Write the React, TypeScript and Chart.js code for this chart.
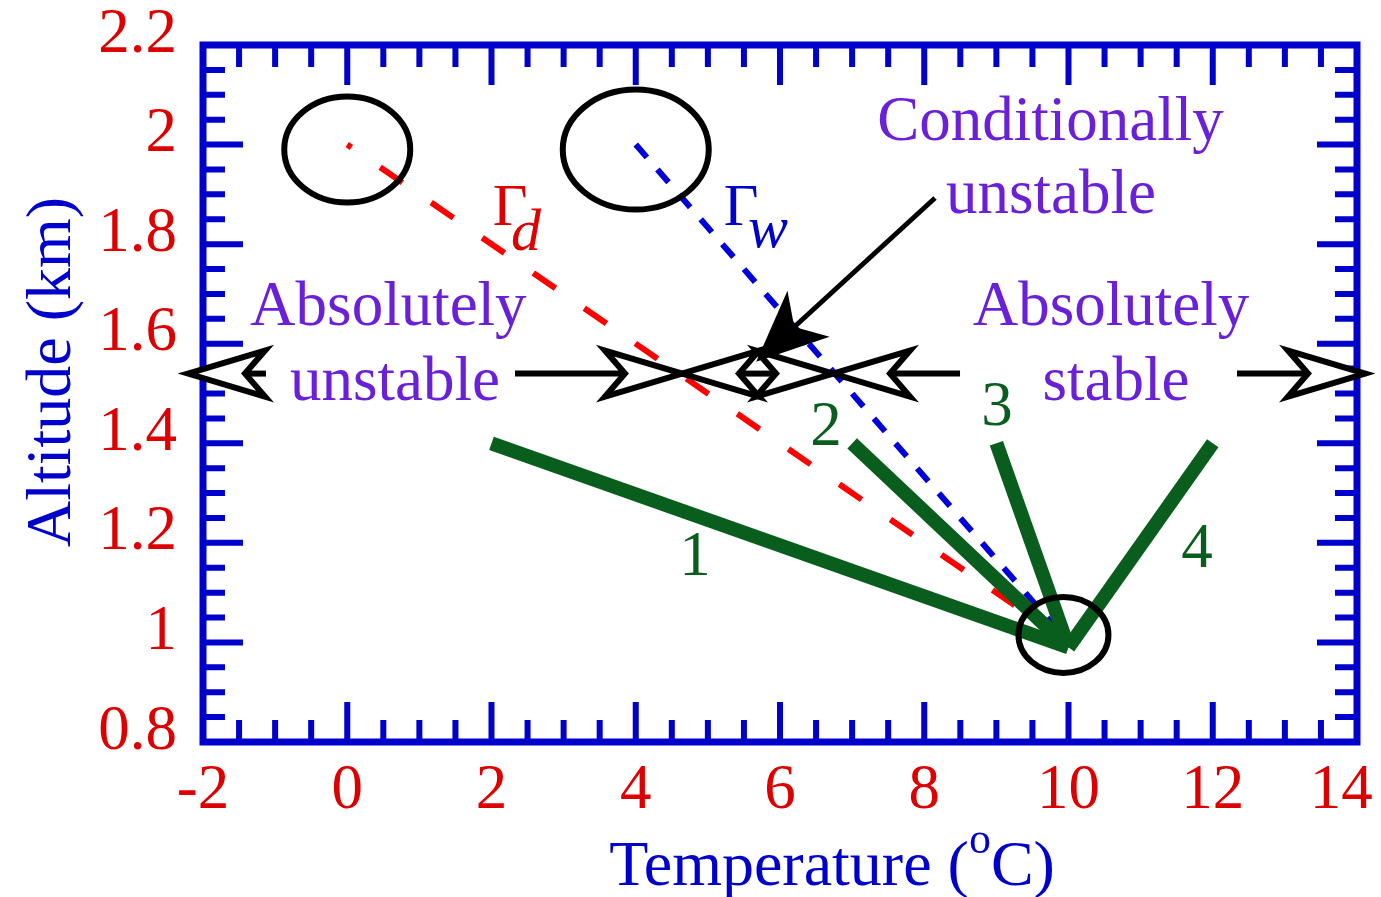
import React, { useEffect, useRef } from 'react';
import { Chart, registerables } from 'chart.js';

Chart.register(...registerables);

// ---------- data ----------
const xTickValues = [-2, 0, 2, 4, 6, 8, 10, 12, 14];
const xTickLabels = ['-2', '0', '2', '4', '6', '8', '10', '12', '14\u2002'];
const yTickValues = [0.8, 1, 1.2, 1.4, 1.6, 1.8, 2, 2.2];
const yTickLabels = ['0.8', '1', '1.2', '1.4', '1.6', '1.8', '2', '2.2'];

const dryX = [0, 10];
const dryY = [2, 1];
const wetX = [4, 10];
const wetY = [2, 1];
const env1X = [2, 10];
const env1Y = [1.4, 0.99];
const env2X = [7, 10];
const env2Y = [1.4, 0.99];
const env3X = [9, 10];
const env3Y = [1.4, 0.99];
const env4X = [12, 10];
const env4Y = [1.4, 0.99];

// ellipses marking points: data-space centres
const circleCX = [0, 4, 9.93];
const circleCY = [1.99, 1.99, 1.015];

// stability ranges arrows (y level and x from/to tip)
const rangeArrowY = 1.54;
const rangeArrowFrom = [-1.127, 2.326, 5.681, 5.681, 8.496, 12.336];
const rangeArrowTo = [-2.208, 4.641, 4.641, 6.735, 6.735, 14.111];

// pointer arrow for "Conditionally unstable"
const pointerFrom = [8.149, 1.8927];
const pointerTo = [5.695, 1.567];

// text labels
const labelTexts = ['Absolutely', 'unstable', 'Conditionally', 'unstable', 'Absolutely', 'stable', '1', '2', '3', '4'];
const labelX = [0.57, 0.662, 9.75, 9.757, 10.589, 10.659, 4.821, 6.638, 9.009, 11.782];
const labelY = [1.6376, 1.487, 2.009, 1.8625, 1.6376, 1.487, 1.1354, 1.3966, 1.4367, 1.1515];

const toPts = (xs: number[], ys: number[]) => xs.map((x, i) => ({ x, y: ys[i] }));

// ---------- styles ----------
const FONT = '"Liberation Serif", "Times New Roman", serif';
const RED = '#dd0000';
const BLUE = '#0000cc';
const PURPLE = '#6a1fd8';
const GREEN = '#0a5e1d';
const circleRX = [63, 73, 45];
const circleRY = [53, 60, 38];
const labelColors = [PURPLE, PURPLE, PURPLE, PURPLE, PURPLE, PURPLE, GREEN, GREEN, GREEN, GREEN];

function drawHead(
  ctx: CanvasRenderingContext2D,
  tx: number, ty: number, ux: number, uy: number,
  len: number, hw: number, notch: number, fill: string
) {
  const nx = -uy, ny = ux;
  const bx = tx - ux * len, by = ty - uy * len;
  const ncx = tx - ux * (len - notch), ncy = ty - uy * (len - notch);
  ctx.beginPath();
  ctx.moveTo(tx, ty);
  ctx.lineTo(bx + nx * hw, by + ny * hw);
  ctx.lineTo(ncx, ncy);
  ctx.lineTo(bx - nx * hw, by - ny * hw);
  ctx.closePath();
  ctx.fillStyle = fill;
  ctx.fill();
  ctx.stroke();
  return [ncx, ncy];
}

const decorPlugin = {
  id: 'decor',
  afterDatasetsDraw(chart: any) {
    const { ctx, chartArea } = chart;
    const xs = chart.scales.x, ys = chart.scales.y;
    const { left, right, top, bottom } = chartArea;
    ctx.save();
    // frame & ticks
    ctx.strokeStyle = BLUE;
    ctx.lineCap = 'butt';
    ctx.lineWidth = 6;
    const minorX = 0.5, minorY = 0.05;
    for (let k = 0; k <= 32; k++) {
      const v = -2 + k * minorX;
      const major = k % 4 === 0;
      const L = major ? 40 : 22;
      const p = xs.getPixelForValue(v);
      ctx.beginPath();
      ctx.moveTo(p, top); ctx.lineTo(p, top + L);
      ctx.moveTo(p, bottom); ctx.lineTo(p, bottom - L);
      ctx.stroke();
    }
    for (let k = 0; k <= 28; k++) {
      const v = 0.8 + k * minorY;
      const major = k % 4 === 0;
      const L = major ? 40 : 22;
      const p = ys.getPixelForValue(v);
      ctx.beginPath();
      ctx.moveTo(left, p); ctx.lineTo(left + L, p);
      ctx.moveTo(right, p); ctx.lineTo(right - L, p);
      ctx.stroke();
    }
    ctx.lineWidth = 7;
    ctx.strokeRect(left, top, right - left, bottom - top);

    // ellipses
    ctx.strokeStyle = '#000';
    ctx.lineWidth = 6;
    for (let i = 0; i < circleCX.length; i++) {
      ctx.beginPath();
      ctx.ellipse(xs.getPixelForValue(circleCX[i]), ys.getPixelForValue(circleCY[i]), circleRX[i], circleRY[i], 0, 0, Math.PI * 2);
      ctx.stroke();
    }

    // range arrows
    ctx.lineJoin = 'miter';
    ctx.miterLimit = 10;
    ctx.lineWidth = 6;
    const ay = ys.getPixelForValue(rangeArrowY);
    for (let i = 0; i < rangeArrowFrom.length; i++) {
      const x0 = xs.getPixelForValue(rangeArrowFrom[i]);
      const x1 = xs.getPixelForValue(rangeArrowTo[i]);
      const ux = x1 > x0 ? 1 : -1;
      const len = 77, notch = 20;
      const ncx = x1 - ux * (len - notch);
      ctx.beginPath();
      ctx.moveTo(x0, ay); ctx.lineTo(ncx, ay);
      ctx.stroke();
      drawHead(ctx, x1, ay, ux, 0, len, 23, notch, '#fff');
    }

    // pointer arrow
    {
      const px0 = xs.getPixelForValue(pointerFrom[0]), py0 = ys.getPixelForValue(pointerFrom[1]);
      const px1 = xs.getPixelForValue(pointerTo[0]), py1 = ys.getPixelForValue(pointerTo[1]);
      const d = Math.hypot(px1 - px0, py1 - py0);
      const ux = (px1 - px0) / d, uy = (py1 - py0) / d;
      const len = 66, notch = 18;
      ctx.lineWidth = 5;
      ctx.beginPath();
      ctx.moveTo(px0, py0);
      ctx.lineTo(px1 - ux * (len - notch), py1 - uy * (len - notch));
      ctx.stroke();
      ctx.lineWidth = 2;
      drawHead(ctx, px1, py1, ux, uy, len, 29, notch, '#000');
    }

    // text labels
    ctx.textAlign = 'center';
    ctx.textBaseline = 'alphabetic';
    ctx.font = `63px ${FONT}`;
    for (let i = 0; i < labelTexts.length; i++) {
      ctx.fillStyle = labelColors[i];
      ctx.fillText(labelTexts[i], xs.getPixelForValue(labelX[i]), ys.getPixelForValue(labelY[i]));
    }
    // Gamma labels
    ctx.font = `60px ${FONT}`;
    ctx.fillStyle = RED;
    ctx.fillText('\u0393', xs.getPixelForValue(2.257), ys.getPixelForValue(1.8384));
    ctx.fillStyle = BLUE;
    ctx.fillText('\u0393', xs.getPixelForValue(5.459), ys.getPixelForValue(1.8384));
    ctx.font = `italic 60px ${FONT}`;
    ctx.fillStyle = RED;
    ctx.fillText('d', xs.getPixelForValue(2.478), ys.getPixelForValue(1.788));
    ctx.fillStyle = BLUE;
    ctx.fillText('w', xs.getPixelForValue(5.834), ys.getPixelForValue(1.794));
    ctx.restore();
  },
  afterDraw(chart: any) {
    const { ctx } = chart;
    ctx.save();
    ctx.fillStyle = BLUE;
    // x title with superscript
    ctx.textBaseline = 'alphabetic';
    ctx.textAlign = 'left';
    ctx.font = `64px ${FONT}`;
    const a = 'Temperature (';
    const c = 'C)';
    const wa = ctx.measureText(a).width;
    const wc = ctx.measureText(c).width;
    ctx.font = `44px ${FONT}`;
    const wo = ctx.measureText('o').width;
    const total = wa + wo + wc;
    let x = 832 - total / 2;
    const base = 885;
    ctx.font = `64px ${FONT}`;
    ctx.fillText(a, x, base);
    x += wa;
    ctx.font = `44px ${FONT}`;
    ctx.fillText('o', x, base - 32);
    x += wo;
    ctx.font = `64px ${FONT}`;
    ctx.fillText(c, x, base);
    // y title
    ctx.translate(70, 372);
    ctx.rotate(-Math.PI / 2);
    ctx.textAlign = 'center';
    ctx.fillText('Altitude (km)', 0, 0);
    ctx.restore();
  },
};

export default function App() {
  const ref = useRef<HTMLCanvasElement>(null);
  useEffect(() => {
    if (!ref.current) return;
    const lineDs = (data: any, color: string, width: number, dash: number[] = [], dashOffset = 0) => ({
      data,
      showLine: true,
      borderColor: color,
      backgroundColor: color,
      borderWidth: width,
      borderDash: dash,
      borderDashOffset: dashOffset,
      borderCapStyle: 'butt',
      pointRadius: 0,
      fill: false,
      tension: 0,
    });
    const chart = new Chart(ref.current, {
      type: 'scatter',
      data: {
        datasets: [
          lineDs(toPts(env1X, env1Y), GREEN, 14),
          lineDs(toPts(env2X, env2Y), GREEN, 14),
          lineDs(toPts(env3X, env3Y), GREEN, 14),
          lineDs(toPts(env4X, env4Y), GREEN, 14),
          lineDs(toPts(wetX, wetY), '#0000dd', 6, [17, 16], 0),
          lineDs(toPts(dryX, dryY), '#ff0000', 6, [27, 35], 22),
        ] as any,
      },
      options: {
        animation: false,
        responsive: false,
        devicePixelRatio: 1,
        layout: { padding: { left: 0, right: 24, top: 45, bottom: 0 } },
        plugins: { legend: { display: false }, tooltip: { enabled: false } },
        scales: {
          x: {
            type: 'linear',
            min: -2,
            max: 14,
            grid: { display: false, drawTicks: false },
            border: { display: false },
            ticks: {
              color: RED,
              font: { family: FONT, size: 63 },
              padding: 12,
              maxRotation: 0,
              autoSkip: false,
              callback: (v: any) => {
                const i = xTickValues.findIndex((t) => Math.abs(t - v) < 1e-9);
                return i >= 0 ? xTickLabels[i] : '';
              },
            },
            afterBuildTicks: (s: any) => {
              s.ticks = xTickValues.map((v) => ({ value: v }));
            },
            afterFit: (s: any) => {
              s.height = 155;
              s.paddingLeft = 0;
              s.paddingRight = 0;
            },
          },
          y: {
            type: 'linear',
            min: 0.8,
            max: 2.2,
            grid: { display: false, drawTicks: false },
            border: { display: false },
            ticks: {
              color: RED,
              font: { family: FONT, size: 63 },
              padding: 26,
              labelOffset: -10,
              autoSkip: false,
              callback: (v: any) => {
                const i = yTickValues.findIndex((t) => Math.abs(t - v) < 1e-9);
                return i >= 0 ? yTickLabels[i] : '';
              },
            },
            afterBuildTicks: (s: any) => {
              s.ticks = yTickValues.map((v) => ({ value: v }));
            },
            afterFit: (s: any) => {
              s.width = 203;
              s.paddingTop = 0;
              s.paddingBottom = 0;
            },
          },
        },
      } as any,
      plugins: [decorPlugin],
    });
    return () => chart.destroy();
  }, []);
  return (
    <div style={{ position: 'absolute', left: 0, top: 0, width: 1381, height: 897, background: '#fff' }}>
      <canvas ref={ref} width={1381} height={897} style={{ display: 'block' }} />
    </div>
  );
}
